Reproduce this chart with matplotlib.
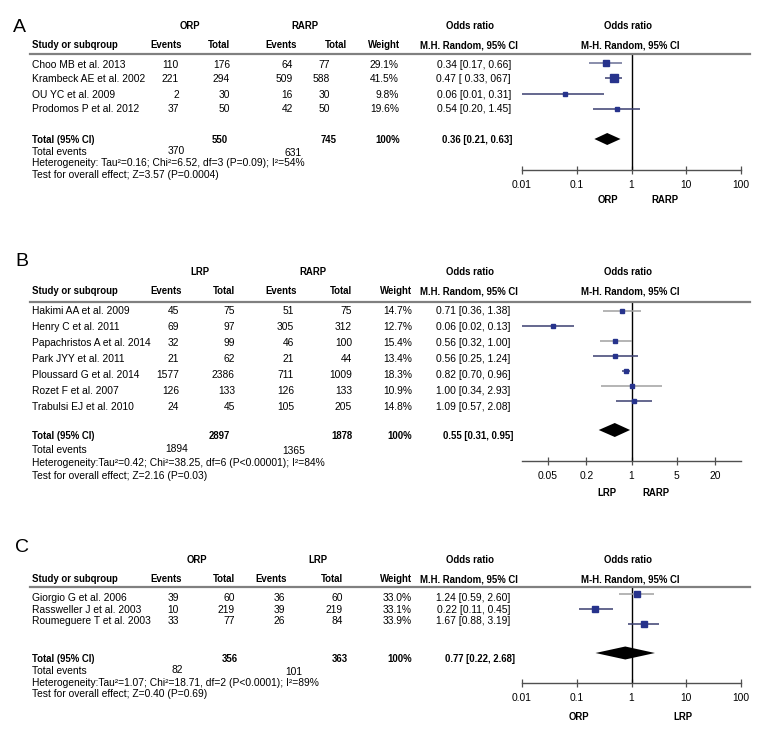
import matplotlib
matplotlib.use("Agg")
import matplotlib.pyplot as plt
from matplotlib.lines import Line2D
from matplotlib.ticker import NullLocator

# ---- data -------------------------------------------------------------
studies_a = ["Choo MB et al. 2013", "Krambeck AE et al. 2002", "OU YC et al. 2009", "Prodomos P et al. 2012"]
ev1_a = [110, 221, 2, 37]
tot1_a = [176, 294, 30, 50]
ev2_a = [64, 509, 16, 42]
tot2_a = [77, 588, 30, 50]
weight_a = [29.1, 41.5, 9.8, 19.6]
or_a = [0.34, 0.47, 0.06, 0.54]
lo_a = [0.17, 0.33, 0.01, 0.20]
hi_a = [0.66, 0.67, 0.31, 1.45]
citext_a = ["0.34 [0.17, 0.66]", "0.47 [ 0.33, 067]", "0.06 [0.01, 0.31]", "0.54 [0.20, 1.45]"]
total_a = [550, 745]
events_a = [370, 631]
pooled_a = [0.36, 0.21, 0.63]
pooledtext_a = "0.36 [0.21, 0.63]"
het_a = "Heterogeneity: Tau\u00b2=0.16; Chi\u00b2=6.52, df=3 (P=0.09); I\u00b2=54%"
test_a = "Test for overall effect; Z=3.57 (P=0.0004)"
groups_a = ["ORP", "RARP"]

studies_b = ["Hakimi AA et al. 2009", "Henry C et al. 2011", "Papachristos A et al. 2014", "Park JYY et al. 2011",
             "Ploussard G et al. 2014", "Rozet F et al. 2007", "Trabulsi EJ et al. 2010"]
ev1_b = [45, 69, 32, 21, 1577, 126, 24]
tot1_b = [75, 97, 99, 62, 2386, 133, 45]
ev2_b = [51, 305, 46, 21, 711, 126, 105]
tot2_b = [75, 312, 100, 44, 1009, 133, 205]
weight_b = [14.7, 12.7, 15.4, 13.4, 18.3, 10.9, 14.8]
or_b = [0.71, 0.06, 0.56, 0.56, 0.82, 1.00, 1.09]
lo_b = [0.36, 0.02, 0.32, 0.25, 0.70, 0.34, 0.57]
hi_b = [1.38, 0.13, 1.00, 1.24, 0.96, 2.93, 2.08]
citext_b = ["0.71 [0.36, 1.38]", "0.06 [0.02, 0.13]", "0.56 [0.32, 1.00]", "0.56 [0.25, 1.24]",
            "0.82 [0.70, 0.96]", "1.00 [0.34, 2.93]", "1.09 [0.57, 2.08]"]
total_b = [2897, 1878]
events_b = [1894, 1365]
pooled_b = [0.55, 0.31, 0.95]
pooledtext_b = "0.55 [0.31, 0.95]"
het_b = "Heterogeneity:Tau\u00b2=0.42; Chi\u00b2=38.25, df=6 (P<0.00001); I\u00b2=84%"
test_b = "Test for overall effect; Z=2.16 (P=0.03)"
groups_b = ["LRP", "RARP"]

studies_c = ["Giorgio G et al. 2006", "Rassweller J et al. 2003", "Roumeguere T et al. 2003"]
ev1_c = [39, 10, 33]
tot1_c = [60, 219, 77]
ev2_c = [36, 39, 26]
tot2_c = [60, 219, 84]
weight_c = [33.0, 33.1, 33.9]
or_c = [1.24, 0.22, 1.67]
lo_c = [0.59, 0.11, 0.88]
hi_c = [2.60, 0.45, 3.19]
citext_c = ["1.24 [0.59, 2.60]", "0.22 [0.11, 0.45]", "1.67 [0.88, 3.19]"]
total_c = [356, 363]
events_c = [82, 101]
pooled_c = [0.77, 0.22, 2.68]
pooledtext_c = "0.77 [0.22, 2.68]"
het_c = "Heterogeneity:Tau\u00b2=1.07; Chi\u00b2=18.71, df=2 (P<0.0001); I\u00b2=89%"
test_c = "Test for overall effect; Z=0.40 (P=0.69)"
groups_c = ["ORP", "LRP"]

ticks_ac = [0.01, 0.1, 1, 10, 100]
ticklabels_ac = ["0.01", "0.1", "1", "10", "100"]
ticks_b = [0.05, 0.2, 1, 5, 20]
ticklabels_b = ["0.05", "0.2", "1", "5", "20"]

# ---- drawing ----------------------------------------------------------
W, H = 780, 744
FONT = ["Liberation Sans", "DejaVu Sans"]
FS = 7.4
FSB = 6.9
DARK = "#3b3f70"
GREY = "#a0a0a0"
SQ = "#27338c"

fig = plt.figure(figsize=(W / 100, H / 100), dpi=100)
fig.patch.set_facecolor("white")


def put(x, y, s, ha="left", bold=False, size=None):
    if size is None:
        size = FSB if bold else FS
    fig.text(x / W, 1 - y / H, s, ha=ha, va="center", fontsize=size,
             fontweight="bold" if bold else "normal", family=FONT)


def hline(x0, x1, y, color="#808080", lw=1.6):
    fig.add_artist(Line2D([x0 / W, x1 / W], [1 - y / H, 1 - y / H], color=color, lw=lw))


def panel(L, studies, ev1, tot1, ev2, tot2, weight, ors, los, his, citext, total, events,
          pooled, pooledtext, het, test, groups, xlim, ticks, ticklabels, cicolors):
    put(L["letter"][0], L["letter"][1], L["name"], size=14)
    put(L["g"][0], L["gy"], groups[0], ha="center", bold=True)
    put(L["g"][1], L["gy"], groups[1], ha="center", bold=True)
    put(470, L["gy"], "Odds ratio", ha="center", bold=True)
    put(628, L["gy"], "Odds ratio", ha="center", bold=True)

    hy = L["hy"]
    hx = L["hx"]
    put(32, hy, "Study or subqroup", bold=True)
    for x, s in zip(hx, ["Events", "Total", "Events", "Total", "Weight", "M.H. Random, 95% CI"]):
        put(x, hy, s, ha="right", bold=True)
    put(630, hy, "M-H. Random, 95% CI", ha="center", bold=True)
    hline(30, 750, L["line"])

    vx = L["vx"]
    for i, name in enumerate(studies):
        y = L["r0"] + i * L["dr"]
        put(32, y, name)
        put(vx[0], y, str(ev1[i]), ha="right")
        put(vx[1], y, str(tot1[i]), ha="right")
        put(vx[2], y, str(ev2[i]), ha="right")
        put(vx[3], y, str(tot2[i]), ha="right")
        put(vx[4], y, "%.1f%%" % weight[i], ha="right")
        put(vx[5], y, citext[i], ha="right")

    ty = L["ty"]
    tx = L["tx"]
    put(32, ty, "Total (95% CI)", bold=True)
    put(tx[0], ty, str(total[0]), ha="right", bold=True)
    put(tx[1], ty, str(total[1]), ha="right", bold=True)
    put(tx[2], ty, "100%", ha="right", bold=True)
    put(tx[3], ty, pooledtext, ha="right", bold=True)
    put(32, ty + L["de"], "Total events")
    put(L["ex"][0], ty + L["de"] - 1, str(events[0]), ha="right")
    put(L["ex"][1], ty + L["de"] + 1, str(events[1]), ha="right")
    put(32, ty + L["de"] + L["dh"], het)
    put(32, ty + L["de"] + 2 * L["dh"], test)

    # forest plot
    top, ax_y = L["line"] + 1, L["axis"]
    ax = fig.add_axes([522 / W, 1 - ax_y / H, 219 / W, (ax_y - top) / H])
    ax.set_xscale("log")
    ax.set_xlim(*xlim)
    ax.set_ylim(ax_y, top)
    ax.patch.set_alpha(0)
    for s in ["top", "left", "right"]:
        ax.spines[s].set_visible(False)
    ax.spines["bottom"].set_color("#505050")
    ax.spines["bottom"].set_linewidth(1.0)
    ax.set_yticks([])
    ax.set_xticks(ticks)
    ax.set_xticklabels(ticklabels, fontsize=FS, family=FONT)
    ax.xaxis.set_minor_locator(NullLocator())
    ax.tick_params(axis="x", direction="inout", length=6, width=0.9, color="#505050", pad=4)
    ax.axvline(1, color="black", lw=1.0)

    for i in range(len(ors)):
        y = L["p0"] + i * L["dp"]
        ax.plot([los[i], his[i]], [y, y], color=cicolors[i], lw=1.1, clip_on=False, solid_capstyle="butt")
        ax.plot(ors[i], y, "s", color=SQ, markersize=(weight[i] ** 0.5) * 0.8, mec=SQ, clip_on=False)

    est, plo, phi = pooled
    dy = L["dy"]
    d = L["dh_d"]
    ax.fill([plo, est, phi, est], [dy, dy - d, dy, dy + d], color="black", lw=0, clip_on=False)

    put(L["lab"][0], L["laby"], groups[0], ha="center", bold=True)
    put(L["lab"][1], L["laby"], groups[1], ha="center", bold=True)


LA = dict(name="A", letter=(13, 27), g=(190, 305), gy=26, hy=45, hx=[182, 230, 297, 347, 400, 518], line=54,
          r0=64.5, dr=15, vx=[179, 230, 293, 330, 399, 511], ty=140, tx=[228, 337, 400, 512], de=12, dh=11.5,
          ex=[185, 302], axis=170, p0=62.5, dp=15.5, dy=139, dh_d=6, lab=(608, 665), laby=200)
LB = dict(name="B", letter=(15, 262), g=(200, 313), gy=272, hy=291, hx=[182, 235, 297, 352, 412, 518], line=302,
          r0=311, dr=16, vx=[179, 235, 294, 352, 412, 510], ty=436, tx=[230, 352, 412, 513], de=14, dh=13,
          ex=[188, 305], axis=461, p0=311, dp=15, dy=430, dh_d=7, lab=(607, 656), laby=493)
LC = dict(name="C", letter=(15, 547), g=(197, 318), gy=560, hy=579, hx=[182, 235, 287, 343, 412, 518], line=587,
          r0=598, dr=11.7, vx=[179, 235, 285, 343, 412, 510], ty=659, tx=[238, 348, 412, 515], de=12, dh=11.5,
          ex=[183, 302], axis=683, p0=594, dp=15, dy=653, dh_d=6.5, lab=(579, 683), laby=717)

panel(LA, studies_a, ev1_a, tot1_a, ev2_a, tot2_a, weight_a, or_a, lo_a, hi_a, citext_a, total_a, events_a,
      pooled_a, pooledtext_a, het_a, test_a, groups_a, (0.01, 100), ticks_ac, ticklabels_ac,
      ["#6a6f94", DARK, DARK, DARK])
panel(LB, studies_b, ev1_b, tot1_b, ev2_b, tot2_b, weight_b, or_b, lo_b, hi_b, citext_b, total_b, events_b,
      pooled_b, pooledtext_b, het_b, test_b, groups_b, (0.02, 50), ticks_b, ticklabels_b,
      [GREY, DARK, GREY, DARK, DARK, GREY, DARK])
panel(LC, studies_c, ev1_c, tot1_c, ev2_c, tot2_c, weight_c, or_c, lo_c, hi_c, citext_c, total_c, events_c,
      pooled_c, pooledtext_c, het_c, test_c, groups_c, (0.01, 100), ticks_ac, ticklabels_ac,
      [GREY, DARK, DARK])

fig.savefig("out.png", dpi=100)
